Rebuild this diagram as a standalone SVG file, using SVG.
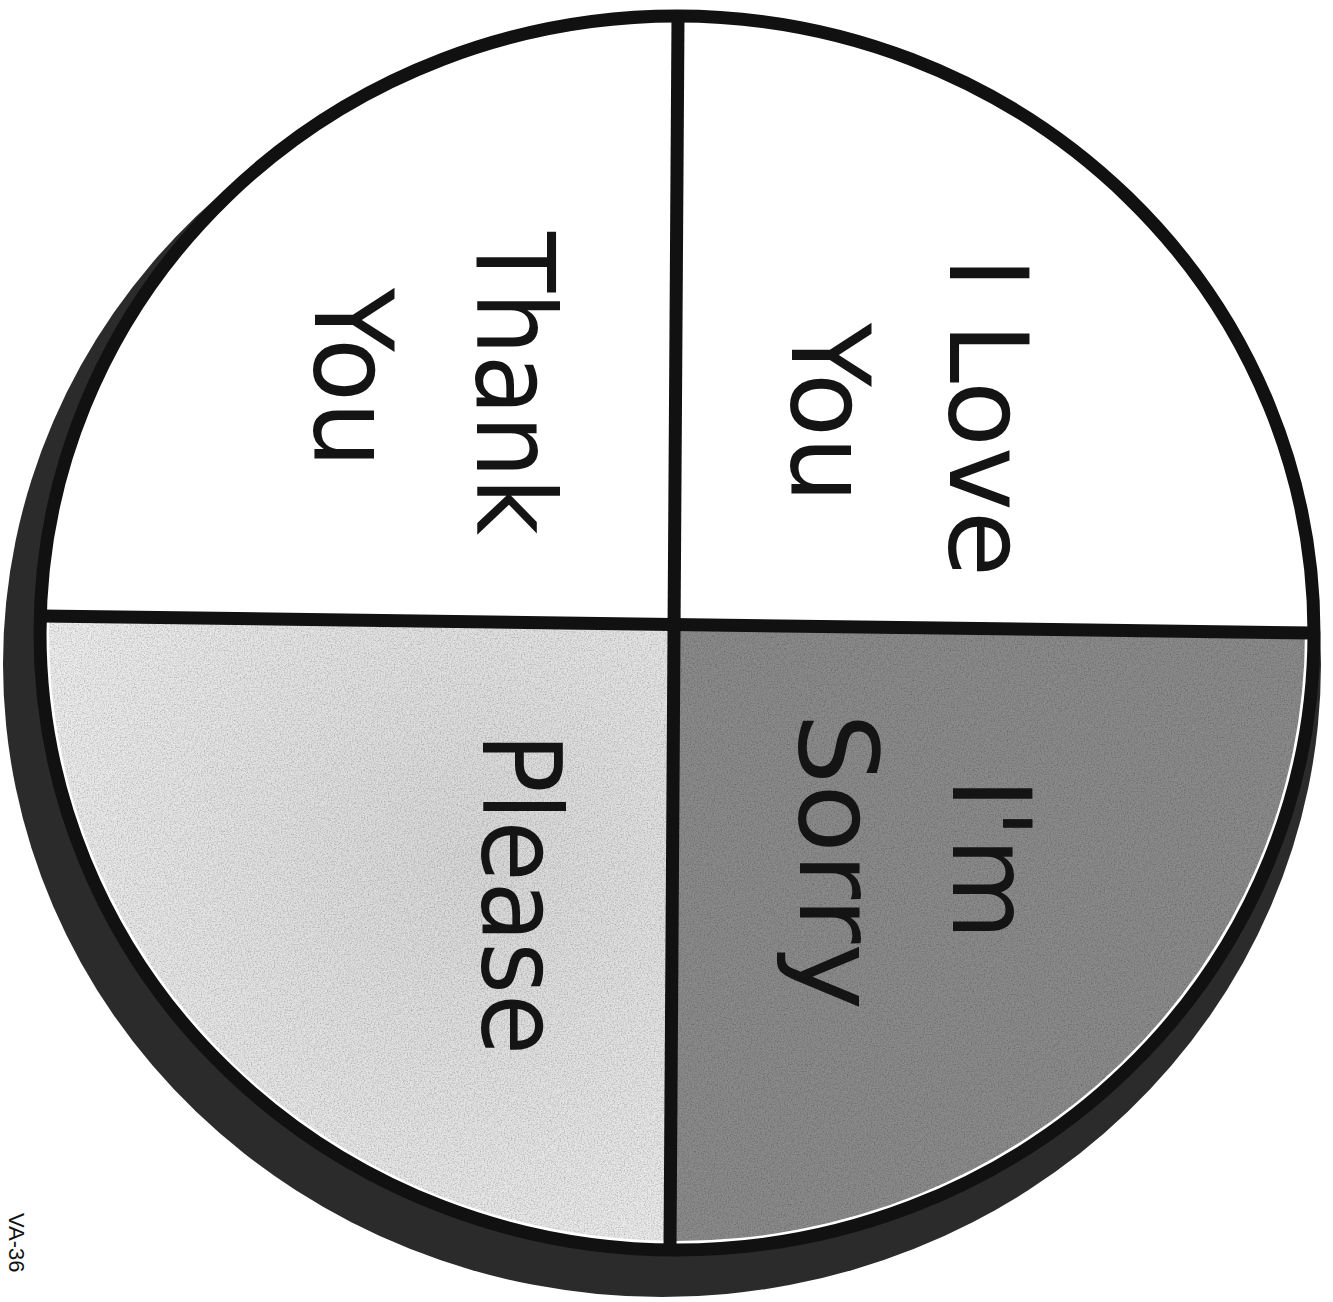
<svg xmlns="http://www.w3.org/2000/svg" width="1333" height="1302" viewBox="0 0 1333 1302">
  <style>
    .lbl { font-family: "DejaVu Sans", "Liberation Sans", sans-serif; font-size: 108px; fill: #141414; }
    .code { font-family: "Liberation Sans", Arial, sans-serif; font-size: 22px; fill: #111; }
    .div { stroke: #111; stroke-width: 13; stroke-linecap: butt; fill: none; }
  </style>
  <defs>
    <clipPath id="inner">
      <ellipse cx="677" cy="633" rx="628" ry="608"/>
    </clipPath>
    <radialGradient id="lightG" cx="470" cy="860" r="600" gradientUnits="userSpaceOnUse">
      <stop offset="0" stop-color="#d8d8d8"/>
      <stop offset="0.6" stop-color="#e8e8e8"/>
      <stop offset="1" stop-color="#f4f4f4"/>
    </radialGradient>
    <filter id="grain" x="0" y="0" width="100%" height="100%">
      <feTurbulence type="fractalNoise" baseFrequency="0.7" numOctaves="2" seed="4" result="n"/>
      <feColorMatrix in="n" type="matrix" values="0 0 0 0 0  0 0 0 0 0  0 0 0 0 0  0 0 0 0.9 -0.35" result="dark"/>
      <feComposite in="dark" in2="SourceGraphic" operator="in" result="d2"/>
      <feMerge><feMergeNode in="SourceGraphic"/><feMergeNode in="d2"/></feMerge>
    </filter>
  </defs>
  <rect width="1333" height="1302" fill="#ffffff"/>

  <g id="disc">
    <ellipse id="shadow" cx="662" cy="664" rx="659" ry="633" fill="#2b2b2b"/>
    <ellipse id="rim" cx="677" cy="633" rx="637" ry="617" fill="#ffffff" stroke="#111" stroke-width="13"/>
  </g>

  <g id="quadrant-sorry" clip-path="url(#inner)">
    <polygon points="674,624.5 1333,633.3 1333,1302 669.6,1302" fill="#8b8b8b" filter="url(#grain)"/>
  </g>
  <g id="quadrant-please" clip-path="url(#inner)">
    <polygon points="674,624.5 669.6,1302 0,1302 0,615.4" fill="url(#lightG)" filter="url(#grain)"/>
  </g>

  <g id="connectors">
    <line class="div" x1="678" y1="18" x2="670" y2="1248"/>
    <line class="div" x1="42" y1="616" x2="1312" y2="633"/>
  </g>

  <g id="node-iloveyou">
    <text class="lbl" transform="translate(950,257) rotate(90)" textLength="320" lengthAdjust="spacingAndGlyphs">I Love</text>
    <text class="lbl" transform="translate(792,323) rotate(90)" textLength="180" lengthAdjust="spacingAndGlyphs">You</text>
  </g>
  <g id="node-thankyou">
    <text class="lbl" transform="translate(477,232) rotate(90)" textLength="303" lengthAdjust="spacingAndGlyphs">Thank</text>
    <text class="lbl" transform="translate(315,288) rotate(90)" textLength="180" lengthAdjust="spacingAndGlyphs">You</text>
  </g>
  <g id="node-imsorry">
    <text class="lbl" transform="translate(953,778) rotate(90)" textLength="162" lengthAdjust="spacingAndGlyphs">I'm</text>
    <text class="lbl" transform="translate(800,713) rotate(90)" textLength="297" lengthAdjust="spacingAndGlyphs">Sorry</text>
  </g>
  <g id="node-please">
    <text class="lbl" transform="translate(483,733) rotate(90)" textLength="322" lengthAdjust="spacingAndGlyphs">Please</text>
  </g>

  <text class="code" transform="translate(9,1213) rotate(90)">VA-36</text>
</svg>
